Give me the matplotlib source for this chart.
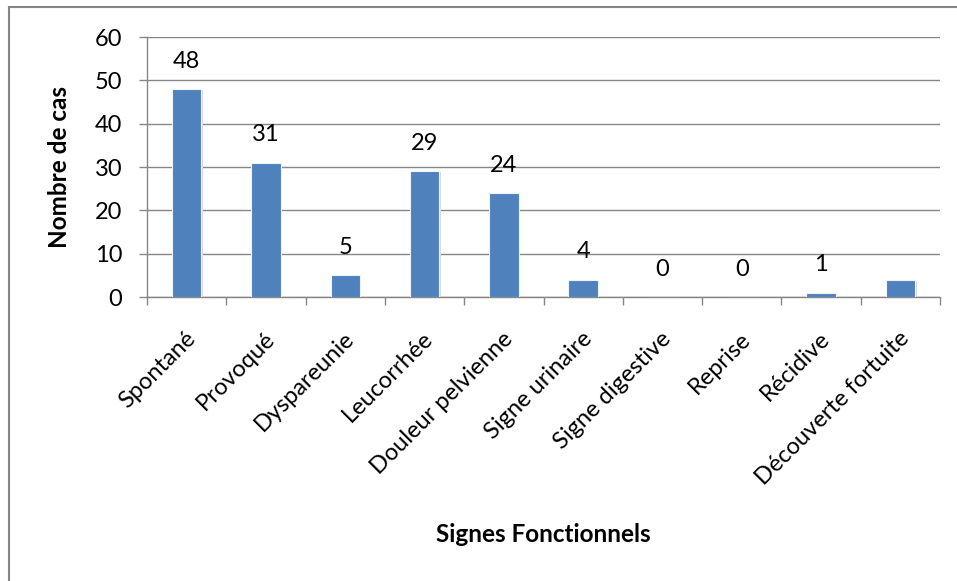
import matplotlib.pyplot as plt
from matplotlib.patches import Rectangle
import matplotlib.transforms as mtransforms

categories = ['Spontané', 'Provoqué', 'Dyspareunie', 'Leucorrhée', 'Douleur pelvienne',
              'Signe urinaire', 'Signe digestive', 'Reprise', 'Récidive', 'Découverte fortuite']
values = [48, 31, 5, 29, 24, 4, 0, 0, 1, 4]
shown_labels = ['48', '31', '5', '29', '24', '4', '0', '0', '1', '']
yticks = [0, 10, 20, 30, 40, 50, 60]

plt.rcParams['font.family'] = ['Lato', 'DejaVu Sans']

W, H = 957, 581
fig = plt.figure(figsize=(W / 100, H / 100), dpi=100)
ax = fig.add_axes([147 / W, 1 - 297 / H, (940 - 147) / W, (297 - 37) / H])

# outer frame (cut off at right and bottom)
fig.patches.append(Rectangle((9 / W, -0.1), 1.2, 1 - 7 / H + 0.1, transform=fig.transFigure,
                             fill=False, edgecolor='#868686', linewidth=1.5))

x = list(range(len(categories)))
shadow = mtransforms.offset_copy(ax.transData, fig=fig, x=1.5, y=-1.0, units='dots')
ax.bar(x, values, width=0.37, color='#d9d9d9', transform=shadow, zorder=2)
ax.bar(x, values, width=0.37, color='#4F81BD', edgecolor='#eef3fa', linewidth=0.8, zorder=3)

for xi, v, lab in zip(x, values, shown_labels):
    ax.annotate(lab, (xi, v), xytext=(0, 28), textcoords='offset pixels',
                ha='center', va='center', fontsize=17, color='black')

ax.set_xlim(-0.5, len(categories) - 0.5)
ax.set_ylim(0, 60)
ax.set_yticks(yticks)
ax.set_yticklabels([str(t) for t in yticks], fontsize=17)
ax.yaxis.grid(True, color='#868686', linewidth=1.0)
ax.set_axisbelow(True)

ax.set_xticks([i + 0.5 for i in range(-1, len(categories))])
ax.set_xticklabels([])
ax.tick_params(axis='x', length=5.8, color='#868686', width=1.0)
ax.tick_params(axis='y', length=5.8, color='#868686', width=1.0, pad=12)

# category labels, rotated 45 degrees, top-right corner under each category
lab_tr = mtransforms.offset_copy(ax.get_xaxis_transform(), fig=fig, x=-2, y=-31, units='dots')
for xi, name in zip(x, categories):
    ax.text(xi, 0, name, transform=lab_tr, rotation=45, rotation_mode='anchor',
            ha='right', va='top', fontsize=17, clip_on=False)

for s in ['top', 'right']:
    ax.spines[s].set_visible(False)
for s in ['left', 'bottom']:
    ax.spines[s].set_color('#868686')
    ax.spines[s].set_linewidth(1.0)

fig.text(60 / W, 1 - 167 / H, 'Nombre de cas', rotation=90, ha='center', va='center',
         fontsize=17.5, fontweight='bold')
fig.text(543 / W, 1 - 534 / H, 'Signes Fonctionnels', ha='center', va='center',
         fontsize=17.5, fontweight='bold')

fig.savefig('out.png', dpi=100)
